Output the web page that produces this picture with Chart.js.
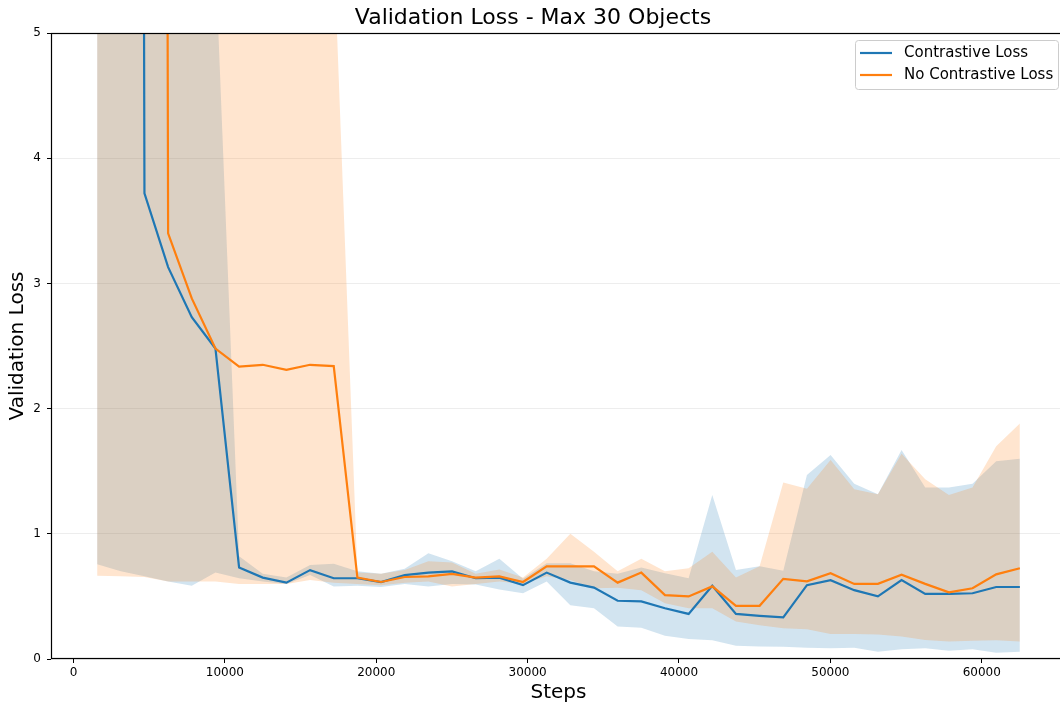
<!DOCTYPE html>
<html>
<head>
<meta charset="utf-8">
<title>Validation Loss - Max 30 Objects</title>
<script src="https://cdn.jsdelivr.net/npm/chart.js@4.4.1/dist/chart.umd.min.js"></script>
<style>
    html, body { margin: 0; padding: 0; background: #fff; overflow: hidden; }
    #wrap { width: 1066px; height: 705px; }
</style>
</head>
<body>
<div id="wrap"><canvas id="lossChart" width="1066" height="705"></canvas></div>
<script>
const FONT = '"DejaVu Sans", "Liberation Sans", sans-serif';

const steps = [
    1563, 3126, 4689, 6252, 7815, 9378, 10941, 12504, 14067, 15630,
    17193, 18756, 20319, 21882, 23445, 25008, 26571, 28134, 29697, 31260,
    32823, 34386, 35949, 37512, 39075, 40638, 42201, 43764, 45327, 46890,
    48453, 50016, 51579, 53142, 54705, 56268, 57831, 59394, 60957, 62520,
];

// mean curves (first points go far above the visible range)
const contrastive = [
    80, 80, 3.72, 3.13, 2.73, 2.48, 0.73, 0.65, 0.61, 0.71,
    0.645, 0.645, 0.615, 0.67, 0.69, 0.70, 0.645, 0.65, 0.59, 0.69,
    0.61, 0.57, 0.465, 0.46, 0.405, 0.36, 0.585, 0.36, 0.345, 0.333,
    0.59, 0.63, 0.55, 0.50, 0.63, 0.52, 0.52, 0.525, 0.575, 0.575,
];
const noContrastive = [
    80, 80, 80, 3.40, 2.88, 2.48, 2.335, 2.35, 2.31, 2.35,
    2.34, 0.65, 0.615, 0.655, 0.66, 0.68, 0.65, 0.66, 0.615, 0.74,
    0.74, 0.74, 0.61, 0.69, 0.51, 0.50, 0.58, 0.425, 0.425, 0.64,
    0.62, 0.685, 0.60, 0.60, 0.673, 0.60, 0.533, 0.565, 0.676, 0.725,
];

// shaded bands
const contrastiveUpper = [
    8, 8, 8, 8, 8, 5.6, 0.82, 0.68, 0.65, 0.75,
    0.76, 0.70, 0.68, 0.72, 0.845, 0.78, 0.70, 0.80, 0.64, 0.765,
    0.765, 0.70, 0.68, 0.73, 0.685, 0.645, 1.31, 0.71, 0.74, 0.705,
    1.47, 1.63, 1.40, 1.315, 1.67, 1.37, 1.37, 1.40, 1.58, 1.60,
];
const contrastiveLower = [
    0.756, 0.70, 0.66, 0.62, 0.585, 0.69, 0.645, 0.62, 0.60, 0.67,
    0.58, 0.585, 0.575, 0.60, 0.58, 0.60, 0.595, 0.555, 0.525, 0.62,
    0.43, 0.405, 0.26, 0.25, 0.185, 0.16, 0.15, 0.105, 0.10, 0.098,
    0.09, 0.085, 0.09, 0.058, 0.077, 0.085, 0.066, 0.077, 0.05, 0.058,
];
const noContrastiveUpper = [
    8, 8, 8, 8, 8, 8, 8, 8, 8, 8,
    5.7, 0.69, 0.68, 0.71, 0.78, 0.77, 0.68, 0.715, 0.65, 0.80,
    1.00, 0.857, 0.70, 0.80, 0.70, 0.725, 0.857, 0.65, 0.74, 1.41,
    1.36, 1.59, 1.355, 1.315, 1.64, 1.435, 1.31, 1.37, 1.70, 1.88,
];
const noContrastiveLower = [
    0.665, 0.66, 0.655, 0.62, 0.62, 0.62, 0.60, 0.60, 0.60, 0.63,
    0.61, 0.60, 0.59, 0.61, 0.62, 0.58, 0.60, 0.62, 0.60, 0.66,
    0.63, 0.565, 0.57, 0.55, 0.445, 0.405, 0.405, 0.30, 0.27, 0.245,
    0.237, 0.20, 0.20, 0.195, 0.18, 0.152, 0.14, 0.145, 0.15, 0.14,
];

const xTicks = [0, 10000, 20000, 30000, 40000, 50000, 60000];
const yTicks = [0, 1, 2, 3, 4, 5];
const seriesNames = ['Contrastive Loss', 'No Contrastive Loss'];

const BLUE = '#1f77b4';
const ORANGE = '#ff7f0e';

function toPoints(values) {
    return steps.map((s, i) => ({ x: s, y: values[i] }));
}

function lineSet(label, values, color, order) {
    return {
        label,
        data: toPoints(values),
        borderColor: color,
        borderWidth: 2.2,
        pointRadius: 0,
        pointHoverRadius: 0,
        tension: 0,
        fill: false,
        order,
    };
}

function bandSet(values, fill, bg, order) {
    return {
        data: toPoints(values),
        borderWidth: 0,
        borderColor: 'rgba(0,0,0,0)',
        backgroundColor: bg,
        pointRadius: 0,
        pointHoverRadius: 0,
        tension: 0,
        fill,
        order,
    };
}

// axes frame + legend box drawn by hand (legend sits inside the plot)
const framePlugin = {
    id: 'frame',
    afterDatasetsDraw(chart) {
        const { ctx, chartArea: a } = chart;
        ctx.save();
        ctx.strokeStyle = '#000';
        ctx.lineWidth = 1.2;
        ctx.strokeRect(a.left + 0.5, a.top + 0.5, a.right - a.left - 1, a.bottom - a.top - 1);

        const boxW = 203, boxH = 49;
        const bx = a.right - 8 - boxW, by = a.top + 7;
        ctx.lineWidth = 1;
        ctx.fillStyle = 'rgba(255,255,255,0.8)';
        ctx.strokeStyle = '#cccccc';
        ctx.beginPath();
        ctx.roundRect(bx + 0.5, by + 0.5, boxW, boxH, 3);
        ctx.fill();
        ctx.stroke();

        ctx.font = `15px ${FONT}`;
        ctx.textBaseline = 'middle';
        ctx.textAlign = 'left';
        [BLUE, ORANGE].forEach((color, i) => {
            const y = by + 13 + i * 22;
            ctx.strokeStyle = color;
            ctx.lineWidth = 2.2;
            ctx.beginPath();
            ctx.moveTo(bx + 5, y);
            ctx.lineTo(bx + 37, y);
            ctx.stroke();
            ctx.fillStyle = '#000';
            ctx.fillText(seriesNames[i], bx + 49, y);
        });
        ctx.restore();
    },
};

function renderChart() {
    const ctx = document.getElementById('lossChart').getContext('2d');

    new Chart(ctx, {
        type: 'line',
        data: {
            datasets: [
                lineSet(seriesNames[0], contrastive, BLUE, 1),
                lineSet(seriesNames[1], noContrastive, ORANGE, 0),
                bandSet(contrastiveUpper, 3, 'rgba(31,119,180,0.2)', 3),
                bandSet(contrastiveLower, false, 'rgba(0,0,0,0)', 3),
                bandSet(noContrastiveUpper, 5, 'rgba(255,127,14,0.2)', 2),
                bandSet(noContrastiveLower, false, 'rgba(0,0,0,0)', 2),
            ],
        },
        options: {
            responsive: false,
            animation: false,
            devicePixelRatio: 1,
            layout: { padding: 0 },
            plugins: {
                legend: { display: false },
                tooltip: { enabled: false },
                title: {
                    display: true,
                    text: 'Validation Loss - Max 30 Objects',
                    color: '#000',
                    font: { family: FONT, size: 22, weight: 'normal' },
                    padding: { top: 5, bottom: 1.6 },
                },
            },
            scales: {
                x: {
                    type: 'linear',
                    min: -1485,
                    max: 65568,
                    afterBuildTicks: s => { s.ticks = xTicks.map(v => ({ value: v })); },
                    afterFit: s => { s.height = 46; },
                    ticks: {
                        color: '#000',
                        font: { family: FONT, size: 12 },
                        padding: 3,
                        maxRotation: 0,
                        autoSkip: false,
                        callback: v => String(v),
                    },
                    grid: { drawOnChartArea: false, tickLength: 4, tickColor: '#000' },
                    border: { display: false },
                    title: {
                        display: true,
                        text: 'Steps',
                        color: '#000',
                        font: { family: FONT, size: 20 },
                        padding: { top: 0, bottom: 0 },
                    },
                },
                y: {
                    min: 0,
                    max: 5,
                    afterBuildTicks: s => { s.ticks = yTicks.map(v => ({ value: v })); },
                    afterFit: s => { s.width = 51; },
                    ticks: {
                        color: '#000',
                        font: { family: FONT, size: 12 },
                        padding: 6,
                        callback: v => String(v),
                    },
                    grid: { color: 'rgba(0,0,0,0.07)', tickLength: 4, tickColor: '#000' },
                    border: { display: false },
                    title: {
                        display: true,
                        text: 'Validation Loss',
                        color: '#000',
                        font: { family: FONT, size: 20 },
                        padding: { top: 6, bottom: 0 },
                    },
                },
            },
        },
        plugins: [framePlugin],
    });
}

document.addEventListener('DOMContentLoaded', renderChart);
</script>
</body>
</html>
